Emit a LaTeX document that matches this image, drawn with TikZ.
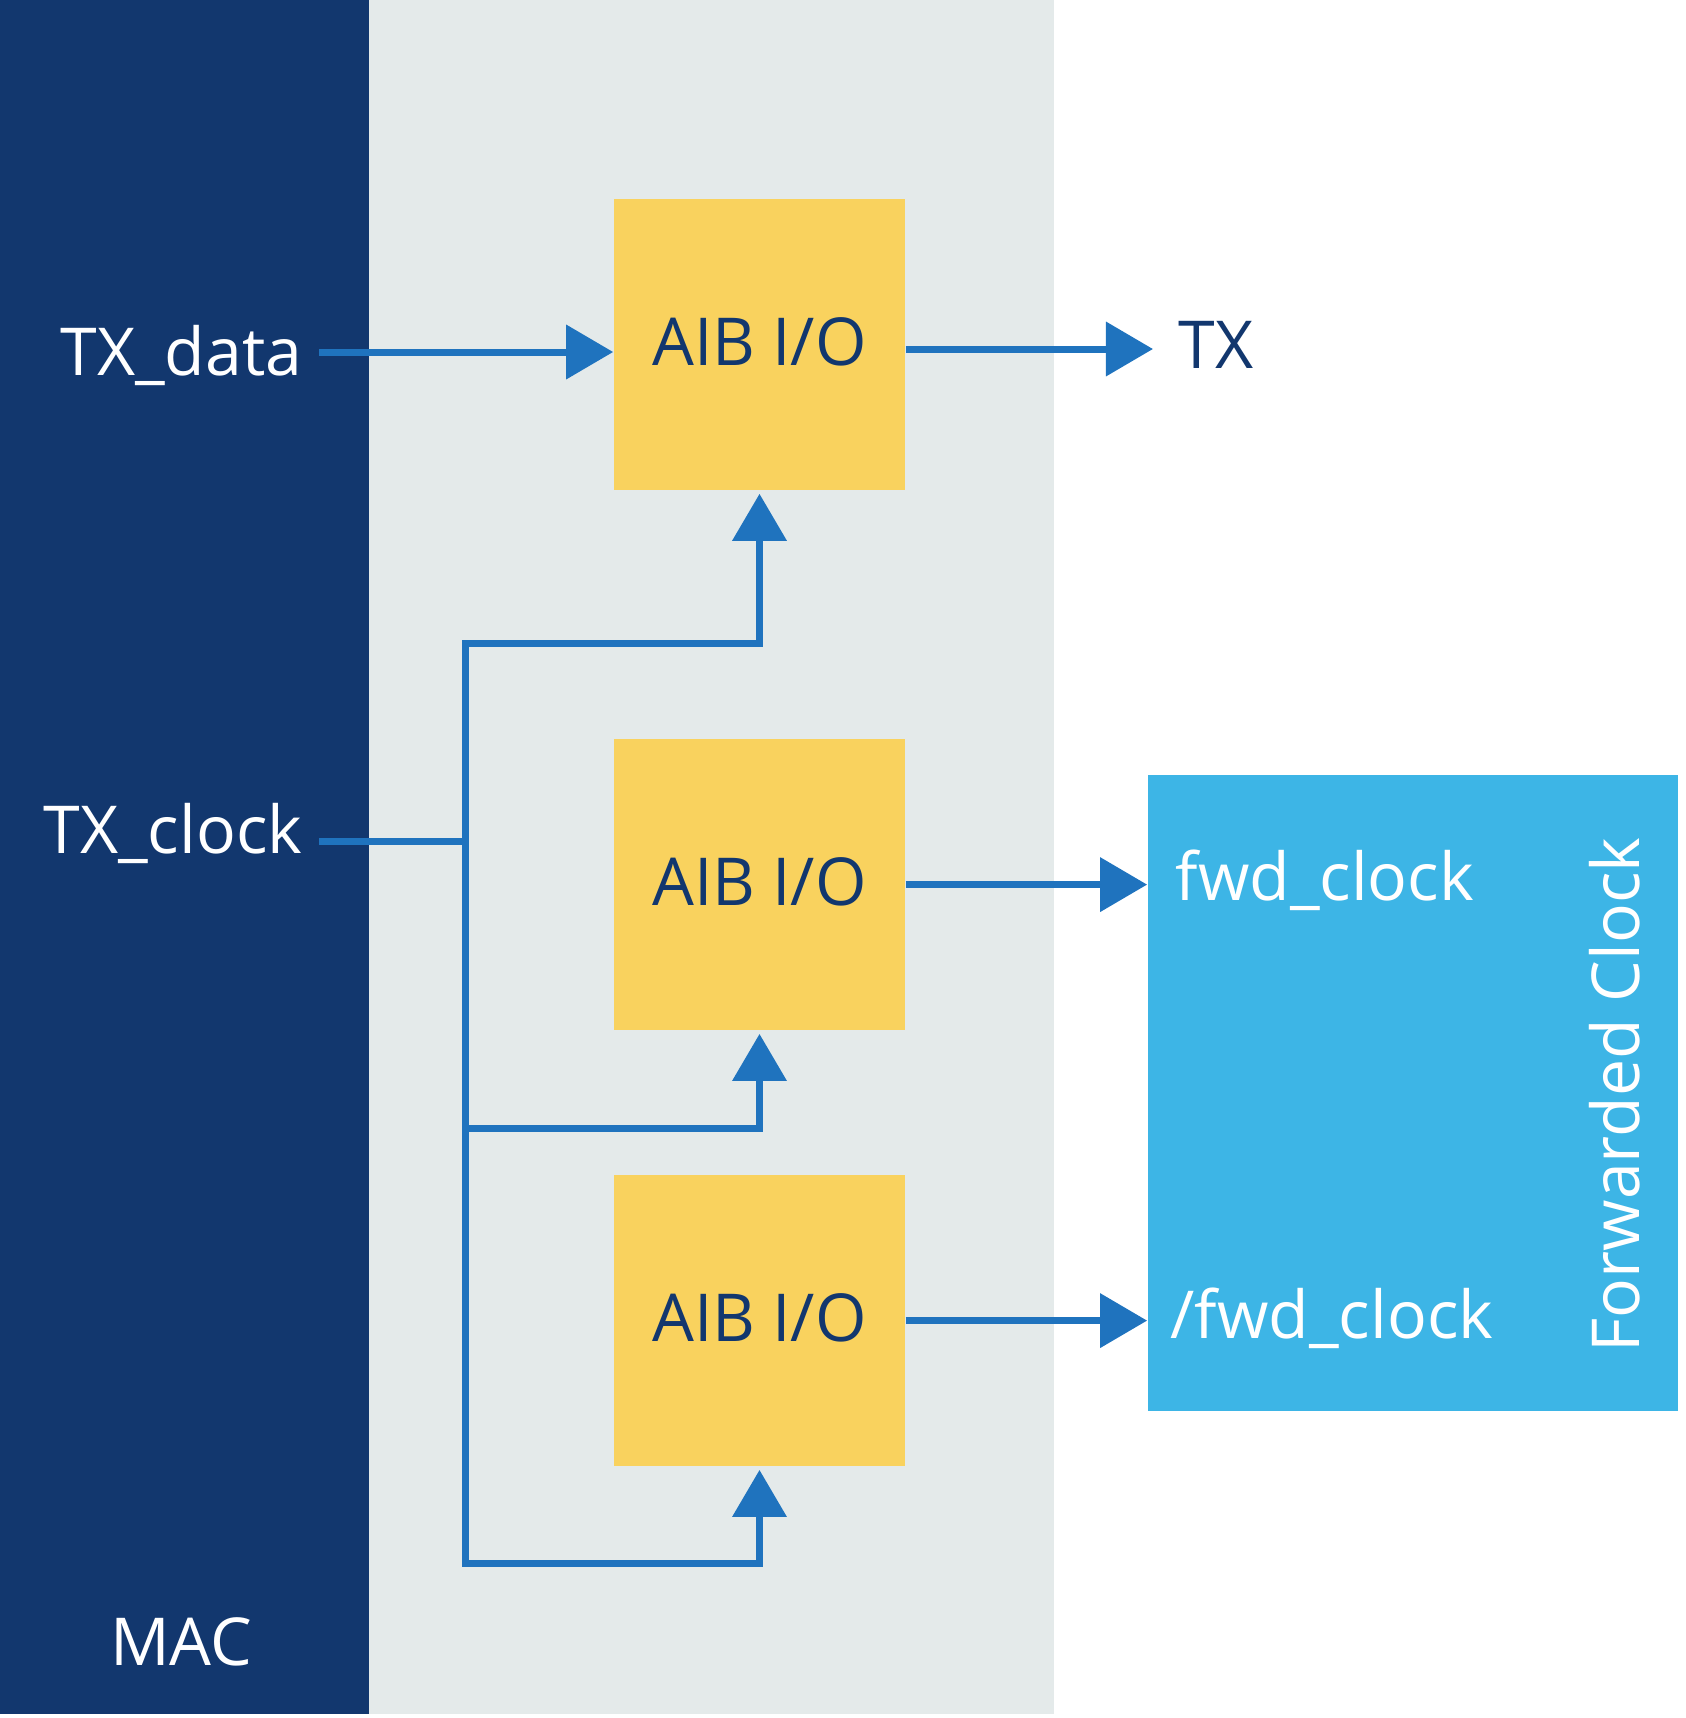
\documentclass[tikz,border=0pt]{standalone}
\usepackage{fontspec}
\setmainfont{Open Sans}
\usepackage{tikz}
\usetikzlibrary{arrows.meta,positioning,calc}
\definecolor{macblue}{HTML}{12376E}
\definecolor{panelgray}{HTML}{E4EAEA}
\definecolor{aibyellow}{HTML}{F9D25E}
\definecolor{fwdblue}{HTML}{3DB5E6}
\definecolor{wireblue}{HTML}{1F73BE}

\begin{document}
\begin{tikzpicture}[x=0.01cm,y=-0.01cm,font=\fontsize{18.8}{22}\selectfont,>={Triangle[length=0.47cm,width=0.53cm]}]
\tikzset{aib/.style={fill=aibyellow,minimum width=2.91cm,minimum height=2.91cm,inner sep=0pt,text=macblue,text height=11.7pt,text depth=0pt},
  wire/.style={draw=wireblue,line width=0.07cm},
  lbl/.style={text=white,inner sep=0pt}}
\useasboundingbox (0,0) rectangle (1686,1718);
% panels
\fill[macblue] (0,0) rectangle (369,1714);
\fill[panelgray] (369,0) rectangle (1054,1714);
% blocks
\node[aib] (aib1) at (759.5,344.5) {AIB I/O};
\node[aib] (aib2) at (759.5,884.6) {AIB I/O};
\node[aib] (aib3) at (759.5,1320.6) {AIB I/O};
\node[fill=fwdblue,minimum width=5.30cm,minimum height=6.36cm,inner sep=0pt] (fc) at (1413,1093) {};
% labels
\node[lbl,anchor=base east] (txd) at (303,375) {TX\_data};
\node[lbl,anchor=base east] (txc) at (303,853) {TX\_clock};
\node[lbl,anchor=base] (mac) at (181,1665) {MAC};
\node[lbl,anchor=base west,text=macblue] (tx) at (1178,368) {TX};
\node[lbl,anchor=base west] (fwd) at (1175,900) {fwd\_clock};
\node[lbl,anchor=base west] (nfwd) at (1170,1338) {/fwd\_clock};
\node[lbl,anchor=base,rotate=90] (fclk) at (1639,1095) {Forwarded Clock};
% wires
\coordinate (dsrc) at (319,352);
\coordinate (csrc) at (319,841);
\coordinate (txo) at (1153,349);
\coordinate (jc) at (465,841);
\coordinate (j1) at (465,643);
\coordinate (j2) at (465,1128);
\coordinate (j3) at (465,1563);
\draw[wire,->] (dsrc) -- (aib1.west |- dsrc);
\draw[wire,->] (aib1.east |- txo) -- (txo);
\draw[wire,->] (aib2.east) -- (aib2.east -| fc.west);
\draw[wire,->] (aib3.east) -- (aib3.east -| fc.west);
\draw[wire] (csrc) -- (jc);
\draw[wire,->,shorten >=0.03cm] (j2) -- (j1) -| (aib1.south);
\draw[wire,->,shorten >=0.03cm] (j2) -| (aib2.south);
\draw[wire,->,shorten >=0.03cm] (j2) -- (j3) -| (aib3.south);
\end{tikzpicture}
\end{document}
